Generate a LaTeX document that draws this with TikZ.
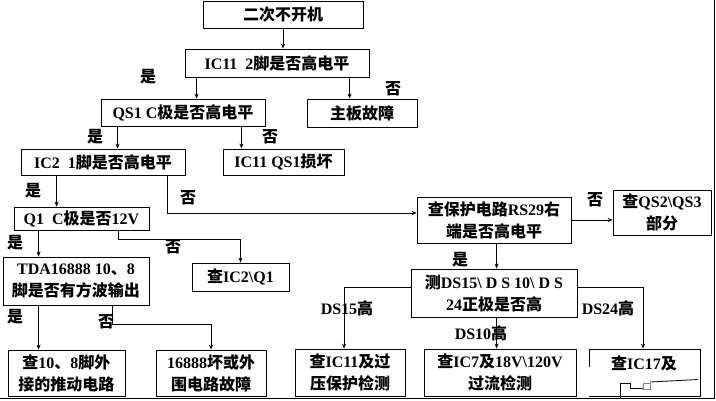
\documentclass[tikz,border=0pt]{standalone}
\usepackage{fontspec}
\setmainfont{Liberation Serif}
\newfontfamily\cjkfont{Noto Sans CJK SC}
\usetikzlibrary{arrows.meta,calc}
\XeTeXinterchartokenstate=1
\newXeTeXintercharclass\CJKcls
\count255="3000 \loop\ifnum\count255<"3040 \XeTeXcharclass\count255=\CJKcls \advance\count255 by 1 \repeat
\count255="4E00 \loop\ifnum\count255<"A000 \XeTeXcharclass\count255=\CJKcls \advance\count255 by 1 \repeat
\count255="FF00 \loop\ifnum\count255<"FFF0 \XeTeXcharclass\count255=\CJKcls \advance\count255 by 1 \repeat
\XeTeXinterchartoks 0 \CJKcls = {\cjkfont}
\XeTeXinterchartoks 4095 \CJKcls = {\cjkfont}
\XeTeXinterchartoks \CJKcls 0 = {\rmfamily}
\XeTeXinterchartoks \CJKcls 4095 = {\rmfamily}
\newcommand\txtfont{\fontsize{16}{22}\selectfont\bfseries}
\tikzset{
  box/.style={draw, line width=0.8pt, inner sep=0pt, align=center, font=\txtfont},
  arr/.style={-{Stealth[length=5pt,width=4pt]}, line width=0.7pt},
  lbl/.style={inner sep=0pt, font=\txtfont},
}
\begin{document}
\begin{tikzpicture}[x=1pt,y=-1pt]
\useasboundingbox (0,0) rectangle (716,400);
% boxes
\node[box, minimum width=160pt, minimum height=27pt] (A) at (283,14.5) {二次不开机};
\node[box, minimum width=184pt, minimum height=28pt] (B) at (277,63) {IC11~~2脚是否高电平};
\node[box, minimum width=164pt, minimum height=27pt] (C) at (183,112.5) {QS1 C极是否高电平};
\node[box, minimum width=110pt, minimum height=28pt] (D) at (362,113) {主板故障};
\node[box, minimum width=164pt, minimum height=26pt] (E) at (103,162) {IC2~~1脚是否高电平};
\node[box, minimum width=121pt, minimum height=26pt] (F) at (283.5,162) {IC11 QS1损坏};
\node[box, minimum width=135pt, minimum height=23pt] (G) at (81.5,218.5) {Q1~~C极是否12V};
\node[box, minimum width=146pt, minimum height=48pt] (H) at (76,281) {TDA16888 10、8\\脚是否有方波输出};
\node[box, minimum width=97pt, minimum height=28pt] (I) at (240.5,277) {查IC2\textbackslash Q1};
\node[box, minimum width=117pt, minimum height=46pt] (J) at (66.5,373) {查10、8脚外\\接的推动电路};
\node[box, minimum width=110pt, minimum height=46pt] (K) at (211,373) {16888坏或外\\围电路故障};
\node[box, minimum width=154pt, minimum height=46pt] (L) at (494,220) {查保护电路RS29右\\端是否高电平};
\node[box, minimum width=98pt, minimum height=45pt] (M) at (662,212.5) {查QS2\textbackslash QS3\\部分};
\node[box, minimum width=166pt, minimum height=48pt] (N) at (494,293) {测DS15\textbackslash~D~S~10\textbackslash~D~S\\24正极是否高};
\node[box, minimum width=110pt, minimum height=47pt] (O) at (350,372.5) {查IC11及过\\压保护检测};
\node[box, minimum width=152pt, minimum height=47pt] (P) at (500,372.5) {查IC7及18V\textbackslash 120V\\过流检测};
\node[box, minimum width=111pt, minimum height=47pt] (Q) at (644.5,372.5) {};
% connectors
\draw[arr] (A.south) -- (A.south |- B.north);
\draw[arr] ($(B.south west)+(12,0)$) coordinate (b1) -- (b1 |- C.north);
\draw[arr] ($(B.south west)+(165,0)$) coordinate (b2) -- (b2 |- D.north);
\draw[arr] ($(C.south west)+(17,0)$) coordinate (c1) -- (c1 |- E.north);
\draw[arr] ($(C.south east)+(-24,0)$) coordinate (c2) -- (c2 |- F.north);
\draw[arr] ($(E.south west)+(36,0)$) coordinate (e1) -- (e1 |- G.north);
\draw[arr] ($(E.south east)+(-18,0)$) coordinate (e2) |- ($(L.west)+(0,-7)$);
\draw[arr] ($(G.south west)+(25,0)$) coordinate (g1) -- (g1 |- H.north);
\draw[arr] ($(G.south east)+(-31,0)$) coordinate (g2) -- ($(g2)+(0,9)$) -| (I.north);
\draw[arr] ($(H.south west)+(36,0)$) coordinate (h1) -- (h1 |- J.north);
\draw[arr] ($(H.south west)+(110,0)$) coordinate (h2) -- ($(h2)+(0,19)$) -| (K.north);
\draw[arr] (L.east) -- (L.east -| M.west);
\draw[arr] ($(L.south west)+(80,0)$) coordinate (l1) -- (l1 |- N.north);
\draw[arr] ($(N.west)+(0,-6)$) -| ($(O.north)+(-6,0)$);
\draw[arr] ($(N.south west)+(86,0)$) coordinate (n1) -- (n1 |- P.north);
\draw[arr] ($(N.east)+(0,-6)$) -| ($(Q.north)+(-1.5,0)$);
% labels
\node[lbl] (t1) at (148,77) {是};
\node[lbl] (t2) at (393,89) {否};
\node[lbl] (t3) at (95,137) {是};
\node[lbl] (t4) at (270,137) {否};
\node[lbl] (t5) at (33,191) {是};
\node[lbl] (t6) at (188,198) {否};
\node[lbl] (t7) at (15,243) {是};
\node[lbl] (t8) at (173,247) {否};
\node[lbl] (t9) at (15,317) {是};
\node[lbl] (t10) at (106,322) {否};
\node[lbl] (t11) at (595,200) {否};
\node[lbl] (t12) at (460,260) {是};
\node[lbl] (t13) at (347,308) {DS15高};
\node[lbl] (t14) at (608,308) {DS24高};
\node[lbl] (t15) at (481,333) {DS10高};
% watermark patch over the last box
\fill[white] (589.4,367) rectangle (699.2,396.4);
\node[lbl] (Qt) at (644,363) {查IC17及};
\draw[line width=0.8pt] (620,398) -- (620,383) -- (630,383) -- (630,388.5) -- (643,388.5);
\draw[line width=0.6pt, gray] (643,383) rectangle (650,389);
\draw[line width=0.8pt] (650,382) -- (698,379.5);
% frame
\draw[line width=1pt] (714.5,0) -- (714.5,398.5) -- (0,398.5);
\end{tikzpicture}
\end{document}
